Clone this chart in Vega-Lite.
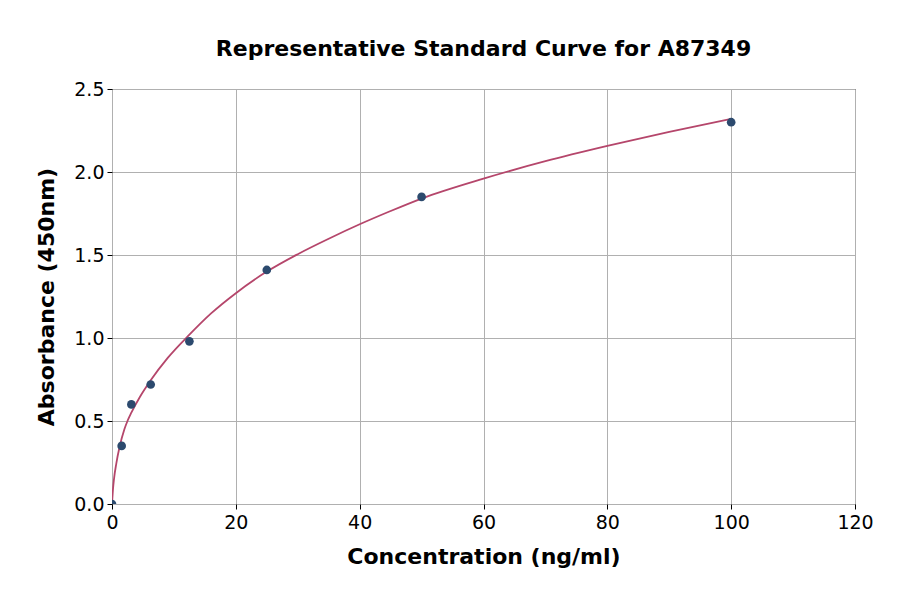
{
  "$schema": "https://vega.github.io/schema/vega-lite/v6.json",
  "autosize": {"type": "none"},
  "padding": {"left": 112, "top": 89, "right": 45, "bottom": 90},
  "width": 743,
  "height": 415,
  "background": "white",
  "title": {
    "text": "Representative Standard Curve for A87349",
    "font": "DejaVu Sans",
    "fontSize": 22,
    "fontWeight": "bold",
    "color": "black",
    "anchor": "middle",
    "offset": 19
  },
  "datasets": {
    "points": [
      {"conc": 0, "od": 0.0},
      {"conc": 1.5625, "od": 0.35},
      {"conc": 3.125, "od": 0.60},
      {"conc": 6.25, "od": 0.72},
      {"conc": 12.5, "od": 0.98},
      {"conc": 25, "od": 1.41},
      {"conc": 50, "od": 1.85},
      {"conc": 100, "od": 2.30}
    ],
    "curve": [
      {"conc": 0, "od": 0.0},
      {"conc": 0.16, "od": 0.09},
      {"conc": 0.32, "od": 0.15},
      {"conc": 0.7, "od": 0.245},
      {"conc": 1.2, "od": 0.34},
      {"conc": 2, "od": 0.45},
      {"conc": 2.5, "od": 0.5},
      {"conc": 3.125, "od": 0.55},
      {"conc": 4.5, "od": 0.645},
      {"conc": 6.25, "od": 0.745},
      {"conc": 9, "od": 0.88},
      {"conc": 12.5, "od": 1.02},
      {"conc": 16, "od": 1.148},
      {"conc": 20, "od": 1.27},
      {"conc": 25, "od": 1.40},
      {"conc": 30, "od": 1.505},
      {"conc": 35, "od": 1.598},
      {"conc": 40, "od": 1.685},
      {"conc": 45, "od": 1.765},
      {"conc": 50, "od": 1.84},
      {"conc": 60, "od": 1.96},
      {"conc": 70, "od": 2.065},
      {"conc": 80, "od": 2.157},
      {"conc": 90, "od": 2.242},
      {"conc": 100, "od": 2.32}
    ]
  },
  "layer": [
    {
      "data": {"name": "curve"},
      "mark": {"type": "line", "color": "#b5466b", "strokeWidth": 1.8, "interpolate": "monotone", "clip": true},
      "encoding": {
        "x": {"field": "conc", "type": "quantitative"},
        "y": {"field": "od", "type": "quantitative"}
      }
    },
    {
      "data": {"name": "points"},
      "mark": {"type": "circle", "color": "#2c4a6e", "size": 75, "opacity": 1, "clip": true},
      "encoding": {
        "x": {
          "field": "conc",
          "type": "quantitative",
          "title": "Concentration (ng/ml)",
          "scale": {"domain": [0, 120], "nice": false, "zero": false},
          "axis": {"values": [0, 20, 40, 60, 80, 100, 120], "titlePadding": 14, "labelFlush": false}
        },
        "y": {
          "field": "od",
          "type": "quantitative",
          "title": "Absorbance (450nm)",
          "scale": {"domain": [0, 2.5], "nice": false},
          "axis": {"values": [0, 0.5, 1, 1.5, 2, 2.5], "format": ".1f", "titlePadding": 15, "labelFlush": false, "labelPadding": 3}
        }
      }
    }
  ],
  "config": {
    "view": {"stroke": "black", "strokeWidth": 1},
    "axis": {
      "domain": false,
      "grid": true,
      "gridColor": "#b0b0b0",
      "gridWidth": 1,
      "tickColor": "black",
      "tickSize": 5,
      "labelFont": "DejaVu Sans",
      "labelFontSize": 19,
      "labelColor": "black",
      "labelPadding": 4,
      "labelOverlap": false,
      "titleFont": "DejaVu Sans",
      "titleFontSize": 22,
      "titleFontWeight": "bold",
      "titleColor": "black"
    }
  }
}
